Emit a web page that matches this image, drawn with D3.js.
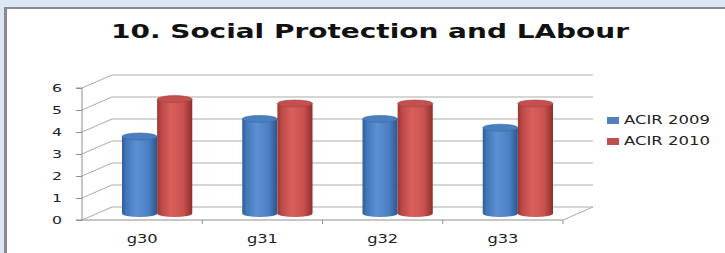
<!DOCTYPE html>
<html><head><meta charset="utf-8">
<script src="https://cdn.jsdelivr.net/npm/d3@7"></script>
<style>html,body{margin:0;padding:0;background:#dbe7f4;}svg{display:block;}</style>
</head><body>
<svg id="c" width="725" height="253"></svg>
<script>
const categories = ["g30", "g31", "g32", "g33"];
const seriesNames = ["ACIR 2009", "ACIR 2010"];
const acir2009 = [3.5, 4.3, 4.3, 3.9];
const acir2010 = [5.2, 5.0, 5.0, 5.0];
const yTicks = [0, 1, 2, 3, 4, 5, 6];
const title = "10. Social Protection and LAbour";

const svg = d3.select("#c");
const font = "'DejaVu Sans', Verdana, sans-serif";

// frame
svg.append("rect").attr("x", 0).attr("y", 0).attr("width", 725).attr("height", 253).attr("fill", "#dbe7f4");
svg.append("rect").attr("x", 4).attr("y", 7).attr("width", 721).attr("height", 246).attr("fill", "#8a8a8a");
svg.append("rect").attr("x", 7).attr("y", 9).attr("width", 718).attr("height", 244).attr("fill", "#ffffff");

// title
svg.append("text").attr("x", 111).attr("y", 38).text(title)
  .attr("font-family", font).attr("font-weight", "bold").attr("font-size", 19)
  .attr("textLength", 518).attr("lengthAdjust", "spacingAndGlyphs").attr("fill", "#111");

// scales
const x = d3.scaleBand().domain(categories).range([82, 563]).padding(0);
const y = d3.scaleLinear().domain([0, 6]).range([220, 88]);
const DX = 30, DY = -13; // depth offset of back wall
const grid = svg.append("g").attr("stroke", "#ababab").attr("stroke-width", 1).attr("fill", "none");

yTicks.forEach(t => {
  const yy = y(t);
  grid.append("line").attr("x1", 82).attr("y1", yy).attr("x2", 82 + DX).attr("y2", yy + DY);
  grid.append("line").attr("x1", 82 + DX).attr("y1", yy + DY).attr("x2", 563 + DX).attr("y2", yy + DY);
});
// floor front + right edge
grid.append("line").attr("x1", 82).attr("y1", y(0)).attr("x2", 563).attr("y2", y(0)).attr("stroke", "#8f8f8f");
grid.append("line").attr("x1", 563).attr("y1", y(0)).attr("x2", 563 + DX).attr("y2", y(0) + DY);

// y axis via d3
const yAxis = d3.axisLeft(y).tickValues(yTicks).tickSize(6).tickPadding(9).tickFormat(d3.format("d"));
const ga = svg.append("g").attr("transform", "translate(82,0)").call(yAxis);
ga.select(".domain").attr("stroke", "#8f8f8f").attr("d", `M-6,${y(6)}H0V${y(0)}H-6`);
ga.selectAll(".tick line").attr("stroke", "#8f8f8f");
ga.selectAll(".tick text").attr("font-family", font).attr("font-size", 11).attr("fill", "#222")
  .attr("text-anchor", "middle").attr("x", -25).attr("dy", "0.36em")
  .attr("textLength", 10).attr("lengthAdjust", "spacingAndGlyphs");

// x axis
const xAxis = d3.axisBottom(x).tickSize(0).tickPadding(16);
const gx = svg.append("g").attr("transform", `translate(0,${y(0)})`).call(xAxis);
gx.select(".domain").remove();
gx.selectAll(".tick text").attr("font-family", font).attr("font-size", 12).attr("fill", "#222")
  .attr("textLength", 31).attr("lengthAdjust", "spacingAndGlyphs").attr("dy", "0.6em");
// category boundary ticks
categories.forEach(c => {
  const xx = x(c) + x.bandwidth();
  svg.append("line").attr("x1", xx).attr("x2", xx).attr("y1", y(0)).attr("y2", y(0) + 4)
    .attr("stroke", "#8f8f8f");
});

// gradients
const defs = svg.append("defs");
function grad(id, stops) {
  const g = defs.append("linearGradient").attr("id", id).attr("x1", "0").attr("x2", "1").attr("y1", "0").attr("y2", "0");
  stops.forEach(s => g.append("stop").attr("offset", s[0]).attr("stop-color", s[1]));
}
grad("gBlue", [[0, "#2f5e99"], [0.12, "#4277b8"], [0.4, "#5b90d3"], [0.75, "#4c80c3"], [1, "#2c5690"]]);
grad("gRed", [[0, "#9a3634"], [0.12, "#bb4947"], [0.4, "#d95f5c"], [0.75, "#c9524f"], [1, "#8e2f2d"]]);
const fills = ["url(#gBlue)", "url(#gRed)"];
const tops = ["#4a7ec0", "#c4504d"];
const topStroke = ["#3d6aa3", "#a84341"];

// bars (cylinders), at mid depth
const mdx = DX / 2, mdy = DY / 2;
const xs = d3.scaleBand().domain(seriesNames).range([25, x.bandwidth() - 25]).padding(0);
const data = [acir2009, acir2010];
const ry = 3.5;
const gb = svg.append("g");
categories.forEach((c, i) => {
  seriesNames.forEach((s, j) => {
    const v = data[j][i];
    const x0 = x(c) + xs(s) + mdx;
    const w = xs.bandwidth();
    const x1 = x0 + w;
    const yb = y(0) + mdy;
    const yt = y(v) + mdy;
    const rx = w / 2;
    gb.append("path")
      .attr("d", `M${x0},${yt}L${x0},${yb}A${rx},${ry} 0 0 0 ${x1},${yb}L${x1},${yt}Z`)
      .attr("fill", fills[j]);
    gb.append("ellipse").attr("cx", x0 + rx).attr("cy", yt).attr("rx", rx).attr("ry", ry)
      .attr("fill", tops[j]).attr("stroke", topStroke[j]).attr("stroke-width", 0.6);
  });
});

// legend
const legY = [117, 138];
const legColors = ["#4f81bd", "#c0504d"];
seriesNames.forEach((s, j) => {
  svg.append("rect").attr("x", 607).attr("y", legY[j]).attr("width", 12).attr("height", 7).attr("fill", legColors[j]);
  svg.append("text").attr("x", 624).attr("y", legY[j] + 7).text(s)
    .attr("font-family", font).attr("font-size", 12.5).attr("fill", "#222")
    .attr("textLength", 86).attr("lengthAdjust", "spacingAndGlyphs");
});
</script>
</body></html>
